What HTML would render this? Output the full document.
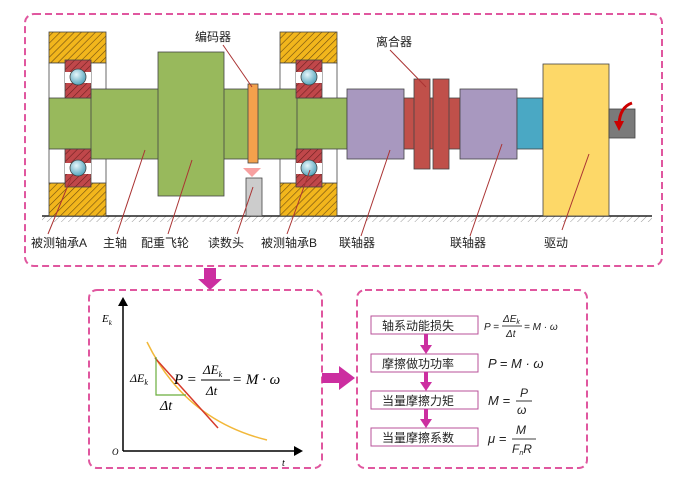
<!DOCTYPE html>
<html><head><meta charset="utf-8"><style>
html,body{margin:0;padding:0;background:#fff;}
svg{display:block;}
text{font-family:"Liberation Sans","Noto Sans CJK SC",sans-serif;}
.m{font-family:"Liberation Serif",serif;font-style:italic;}
</style></head><body>
<svg width="684" height="477" viewBox="0 0 684 477" xmlns="http://www.w3.org/2000/svg">
<defs>
<pattern id="hy" width="5" height="5" patternUnits="userSpaceOnUse" patternTransform="rotate(45)">
<rect width="5" height="5" fill="#f2b61c"/><line x1="0" y1="0" x2="0" y2="5" stroke="#6b4a10" stroke-width="1.2"/></pattern>
<pattern id="hr" width="5" height="5" patternUnits="userSpaceOnUse" patternTransform="rotate(45)">
<rect width="5" height="5" fill="#c0474a"/><line x1="0" y1="0" x2="0" y2="5" stroke="#6e2020" stroke-width="1.2"/></pattern>
<pattern id="hg" width="5" height="5" patternUnits="userSpaceOnUse" patternTransform="rotate(45)">
<line x1="0" y1="0" x2="0" y2="5" stroke="#999" stroke-width="1"/></pattern>
<radialGradient id="ball" cx="0.4" cy="0.35" r="0.7"><stop offset="0" stop-color="#e6f6fb"/><stop offset="1" stop-color="#4a9fb8"/></radialGradient>
</defs>
<g fill="none" stroke="#e0579f" stroke-width="2" stroke-dasharray="7,4">
<rect x="25" y="14" width="637" height="252" rx="9"/>
<rect x="89" y="290" width="233" height="178" rx="8"/>
<rect x="357" y="290" width="230" height="178" rx="8"/>
</g>
<!-- ground -->
<rect x="42" y="216" width="610" height="6" fill="url(#hg)"/>
<line x1="42" y1="216" x2="652" y2="216" stroke="#222" stroke-width="1.5"/>
<g stroke="#444" stroke-width="0.8">
<!-- housings A -->
<rect x="49" y="32" width="57" height="31" fill="url(#hy)"/>
<rect x="49" y="183" width="57" height="33" fill="url(#hy)"/>
<rect x="49" y="63" width="57" height="120" fill="#fff"/>
<rect x="280" y="32" width="57" height="31" fill="url(#hy)"/>
<rect x="280" y="183" width="57" height="33" fill="url(#hy)"/>
<rect x="280" y="63" width="57" height="120" fill="#fff"/>
<!-- shaft -->
<rect x="49" y="98" width="298" height="51" fill="#98b95c"/>
<rect x="91" y="89" width="206" height="70" fill="#98b95c"/>
<rect x="158" y="52" width="66" height="144" fill="#98b95c"/>
<rect x="248" y="84" width="10" height="79" fill="#f4a14c"/>
<rect x="246" y="178" width="16" height="38" fill="#ccc"/>
<!-- bearings -->
<rect x="65" y="60" width="26" height="38" fill="url(#hr)"/>
<rect x="65" y="149" width="26" height="38" fill="url(#hr)"/>
<rect x="296" y="60" width="26" height="38" fill="url(#hr)"/>
<rect x="296" y="149" width="26" height="38" fill="url(#hr)"/>
<rect x="65" y="72" width="26" height="11" fill="#fff" stroke="none"/>
<rect x="65" y="163" width="26" height="11" fill="#fff" stroke="none"/>
<rect x="296" y="72" width="26" height="11" fill="#fff" stroke="none"/>
<rect x="296" y="163" width="26" height="11" fill="#fff" stroke="none"/>
<circle cx="78" cy="77" r="8" fill="url(#ball)"/>
<circle cx="78" cy="168" r="8" fill="url(#ball)"/>
<circle cx="309" cy="77" r="8" fill="url(#ball)"/>
<circle cx="309" cy="168" r="8" fill="url(#ball)"/>
<!-- couplings -->
<rect x="347" y="89" width="57" height="70" fill="#a898bf"/>
<rect x="404" y="98" width="56" height="51" fill="#c0504a"/>
<rect x="414" y="79" width="16" height="90" fill="#c0504a"/>
<rect x="433" y="79" width="16" height="90" fill="#c0504a"/>
<rect x="460" y="89" width="57" height="70" fill="#a898bf"/>
<rect x="517" y="98" width="26" height="51" fill="#4aa8c4"/>
<rect x="543" y="64" width="66" height="152" fill="#fdd868"/>
<rect x="609" y="109" width="26" height="29" fill="#7a7a7a"/>
</g>
<polygon points="243,168 261,168 252,177" fill="#f7a0a0"/>
<path d="M632,103 Q620,107 619,124" fill="none" stroke="#c00" stroke-width="3"/>
<polygon points="614,121 624,121 619,131" fill="#c00"/>
<!-- leaders -->
<g stroke="#a33" stroke-width="1">
<line x1="71" y1="178" x2="48" y2="234"/>
<line x1="145" y1="150" x2="117" y2="234"/>
<line x1="192" y1="160" x2="168" y2="234"/>
<line x1="253" y1="187" x2="237" y2="234"/>
<line x1="310" y1="170" x2="287" y2="234"/>
<line x1="223" y1="45" x2="252" y2="87"/>
<line x1="390" y1="50" x2="426" y2="87"/>
<line x1="390" y1="150" x2="361" y2="236"/>
<line x1="502" y1="144" x2="470" y2="236"/>
<line x1="589" y1="154" x2="562" y2="230"/>
</g>
<g font-size="12" fill="#222">
<text x="31" y="247">被测轴承A</text>
<text x="103" y="247">主轴</text>
<text x="141" y="247">配重飞轮</text>
<text x="208" y="247">读数头</text>
<text x="261" y="247">被测轴承B</text>
<text x="339" y="247">联轴器</text>
<text x="450" y="247">联轴器</text>
<text x="544" y="247">驱动</text>
<text x="195" y="41">编码器</text>
<text x="376" y="46">离合器</text>
</g>
<!-- arrows -->
<polygon points="204,268 216,268 216,279 222,279 210,290 198,279 204,279" fill="#cc2ea0"/>
<polygon points="322,373 339,373 339,366 355,378 339,390 339,383 322,383" fill="#cc2ea0"/>
<!-- graph -->
<line x1="123" y1="451" x2="123" y2="305" stroke="#000" stroke-width="1.5"/>
<polygon points="118,306 128,306 123,297" fill="#000"/>
<line x1="123" y1="451" x2="295" y2="451" stroke="#000" stroke-width="1.5"/>
<polygon points="294,446 294,456 303,451" fill="#000"/>
<text x="102" y="322" class="m" font-size="11">E<tspan font-size="7" dy="3">k</tspan></text>
<text x="112" y="455" class="m" font-size="9">O</text>
<text x="282" y="466" class="m" font-size="10">t</text>
<path d="M147,342 Q185,420 267,440" fill="none" stroke="#f2b83a" stroke-width="1.5"/>
<line x1="155" y1="358" x2="218" y2="428" stroke="#d63a2a" stroke-width="1.5"/>
<polyline points="156,357 156,395 186,395" fill="none" stroke="#6aad3c" stroke-width="1.2"/>
<text x="130" y="382" font-size="12" class="m">ΔE<tspan font-size="8" dy="3">k</tspan></text>
<text x="160" y="410" font-size="14" class="m">Δt</text>
<text x="174" y="384" font-size="15" class="m">P =</text>
<text x="203" y="374" font-size="13" class="m">ΔE<tspan font-size="8" dy="3">k</tspan></text>
<line x1="201" y1="380" x2="230" y2="380" stroke="#000"/>
<text x="206" y="395" font-size="13" class="m">Δt</text>
<text x="232" y="384" font-size="15" class="m">= M · ω</text>
<!-- flow -->
<g stroke="#b9529a" stroke-width="1" fill="#fff">
<rect x="371" y="316" width="107" height="18"/>
<rect x="371" y="354" width="107" height="18"/>
<rect x="371" y="391" width="107" height="18"/>
<rect x="371" y="428" width="107" height="18"/>
</g>
<g fill="#cc2ea0">
<rect x="424" y="334" width="4" height="12"/><polygon points="420,345 432,345 426,354"/>
<rect x="424" y="372" width="4" height="11"/><polygon points="420,382 432,382 426,391"/>
<rect x="424" y="409" width="4" height="11"/><polygon points="420,419 432,419 426,428"/>
</g>
<g font-size="12" fill="#222">
<text x="382" y="330">轴系动能损失</text>
<text x="382" y="368">摩擦做功功率</text>
<text x="382" y="405">当量摩擦力矩</text>
<text x="382" y="442">当量摩擦系数</text>
</g>
<g class="m" fill="#222">
<text x="484" y="330" font-size="10">P =</text>
<text x="503" y="322" font-size="10">ΔE<tspan font-size="7" dy="2">k</tspan></text>
<line x1="502" y1="326" x2="522" y2="326" stroke="#000" stroke-width="0.8"/>
<text x="506" y="337" font-size="10">Δt</text>
<text x="524" y="330" font-size="10">= M · ω</text>
<text x="488" y="368" font-size="13">P = M · ω</text>
<text x="488" y="405" font-size="13">M =</text>
<text x="520" y="397" font-size="12">P</text>
<line x1="516" y1="401" x2="532" y2="401" stroke="#000" stroke-width="0.8"/>
<text x="517" y="414" font-size="12">ω</text>
<text x="488" y="443" font-size="13">μ =</text>
<text x="516" y="434" font-size="12">M</text>
<line x1="512" y1="439" x2="536" y2="439" stroke="#000" stroke-width="0.8"/>
<text x="512" y="453" font-size="12">F<tspan font-size="7" dy="2">n</tspan><tspan dy="-2">R</tspan></text>
</g>
</svg>
</body></html>
